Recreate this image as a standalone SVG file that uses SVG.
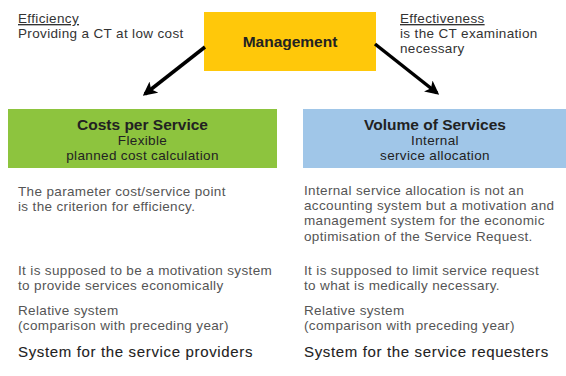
<svg xmlns="http://www.w3.org/2000/svg" width="566" height="376" viewBox="0 0 566 376">
<defs>
<style>
text{font-family:"Liberation Sans",Arial,sans-serif;font-size:13.5px;letter-spacing:0.35px}
.hd{fill:#333}
.bd{fill:#555}
.bx{fill:#222;text-anchor:middle}
.b{font-weight:bold;font-size:15.5px;letter-spacing:0}
.sys{fill:#222;font-size:15px;letter-spacing:0.65px;stroke:#222;stroke-width:0.1}
.u{text-decoration:underline}
</style>
<marker id="ah" viewBox="0 0 10 10" refX="8" refY="5" markerWidth="4" markerHeight="4" orient="auto" markerUnits="strokeWidth">
<path d="M0,0 L10,5 L0,10 L2.5,5 z" fill="#000"/>
</marker>
</defs>
<rect width="566" height="376" fill="#fff"/>
<g id="efficiency">
<text class="hd" x="18" y="23"><tspan class="u">Efficiency</tspan><tspan x="18" dy="15.2">Providing a CT at low cost</tspan></text>
</g>
<g id="effectiveness">
<text class="hd" x="400" y="23"><tspan class="u">Effectiveness</tspan><tspan x="400" dy="15.2">is the CT examination</tspan><tspan x="400" dy="15.2">necessary</tspan></text>
</g>
<g id="management">
<rect x="204" y="12" width="172" height="59" fill="#FFC80A"/>
<text class="bx b" x="290" y="47">Management</text>
</g>
<g id="connectors" stroke="#000" stroke-width="3.5" fill="none">
<line x1="205" y1="47" x2="145" y2="94" marker-end="url(#ah)"/>
<line x1="375" y1="44" x2="437" y2="93" marker-end="url(#ah)"/>
</g>
<g id="costs">
<rect x="8" y="109" width="269" height="59" fill="#8DC43E"/>
<text class="bx" x="142.5" y="129.5"><tspan class="b">Costs per Service</tspan><tspan x="142.5" dy="15.6">Flexible</tspan><tspan x="142.5" dy="15.2">planned cost calculation</tspan></text>
</g>
<g id="volume">
<rect x="303" y="109" width="263" height="59" fill="#A0C6E8"/>
<text class="bx" x="435" y="129.5"><tspan class="b">Volume of Services</tspan><tspan x="435" dy="15.6">Internal</tspan><tspan x="435" dy="15.2">service allocation</tspan></text>
</g>
<g id="left-text">
<text class="bd" x="18" y="195.5">The parameter cost/service point<tspan x="18" dy="15.2">is the criterion for efficiency.</tspan></text>
<text class="bd" x="18" y="274.5">It is supposed to be a motivation system<tspan x="18" dy="15.2">to provide services economically</tspan></text>
<text class="bd" x="18" y="314.5">Relative system<tspan x="18" dy="15.2">(comparison with preceding year)</tspan></text>
<text class="sys" x="18" y="357">System for the service providers</text>
</g>
<g id="right-text">
<text class="bd" x="304" y="195">Internal service allocation is not an<tspan x="304" dy="15.2">accounting system but a motivation and</tspan><tspan x="304" dy="15.2">management system for the economic</tspan><tspan x="304" dy="15.2">optimisation of the Service Request.</tspan></text>
<text class="bd" x="304" y="274.5">It is supposed to limit service request<tspan x="304" dy="15.2">to what is medically necessary.</tspan></text>
<text class="bd" x="304" y="314.5">Relative system<tspan x="304" dy="15.2">(comparison with preceding year)</tspan></text>
<text class="sys" x="304" y="357">System for the service requesters</text>
</g>
</svg>
